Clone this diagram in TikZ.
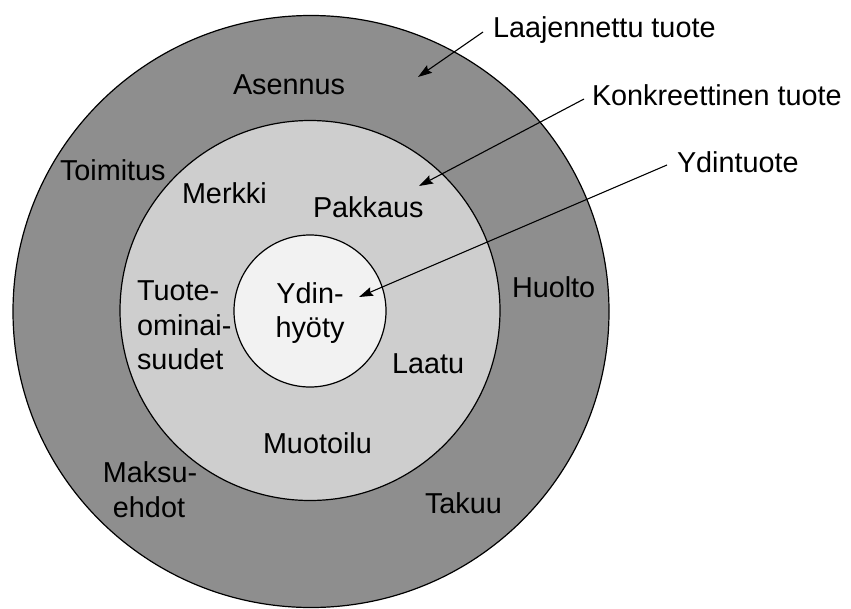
\documentclass[tikz,border=0pt]{standalone}
\usepackage{fontspec}
\setmainfont{Liberation Sans}
\usetikzlibrary{arrows.meta}
\definecolor{ringdark}{HTML}{8E8E8E}
\definecolor{ringmid}{HTML}{CECECE}
\definecolor{ringcore}{HTML}{F2F2F2}
\begin{document}
\begin{tikzpicture}[x=1pt,y=-1pt,
  lbl/.style={inner sep=0pt, outer sep=0pt, anchor=base west, font=\fontsize{28.8}{34}\selectfont},
  lblc/.style={inner sep=0pt, outer sep=0pt, anchor=base, font=\fontsize{28.8}{34}\selectfont},
  ring/.style={draw=black, line width=1.2pt},
  pointer/.style={draw=black, line width=1.1pt, -{Stealth[length=14pt,width=9pt,inset=2pt]}}
]
\useasboundingbox (0,0) rectangle (851,608);
% rings
\path[ring, fill=ringdark] (311,311.5) ellipse [x radius=298, y radius=296];
\path[ring, fill=ringmid] (310,310.5) circle [radius=190];
\path[ring, fill=ringcore] (310,311) circle [radius=76];
% outer ring labels
\node[lbl] (asennus) at (233,94) {Asennus};
\node[lbl] (toimitus) at (60,180) {Toimitus};
\node[lbl] (huolto) at (512,297) {Huolto};
\node[lblc] (maksu1) at (150,482) {Maksu-};
\node[lblc] (maksu2) at (149,517) {ehdot};
\node[lbl] (takuu) at (425,513) {Takuu};
% middle ring labels
\node[lbl] (merkki) at (182,203) {Merkki};
\node[lbl] (pakkaus) at (313,217) {Pakkaus};
\node[lbl] (tuote1) at (137,300) {Tuote-};
\node[lbl] (tuote2) at (137,335) {ominai-};
\node[lbl] (tuote3) at (137,369) {suudet};
\node[lbl] (laatu) at (392,373) {Laatu};
\node[lbl] (muotoilu) at (263,453) {Muotoilu};
% core labels
\node[lblc] (ydin1) at (310,303) {Ydin-};
\node[lblc] (ydin2) at (310,337) {hyöty};
% legend labels
\node[lbl] (laaj) at (493,37) {Laajennettu tuote};
\node[lbl] (konk) at (592,105) {Konkreettinen tuote};
\node[lbl] (ydint) at (677,172) {Ydintuote};
% arrow ends
\coordinate (sLaaj) at (483,32);
\coordinate (tLaaj) at (418,77);
\coordinate (sKonk) at (584,99);
\coordinate (tKonk) at (419,186);
\coordinate (sYdin) at (667,165);
\coordinate (tYdin) at (359,297);
\draw[pointer] (sLaaj) -- (tLaaj);
\draw[pointer] (sKonk) -- (tKonk);
\draw[pointer] (sYdin) -- (tYdin);
\end{tikzpicture}
\end{document}
